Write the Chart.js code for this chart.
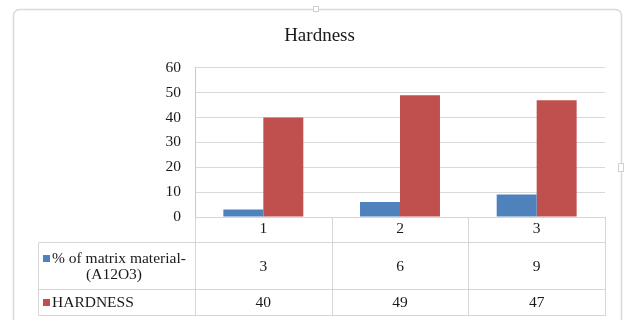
<!DOCTYPE html>
<html>
<head>
<meta charset="utf-8">
<script src="https://cdn.jsdelivr.net/npm/chart.js@4/dist/chart.umd.min.js"></script>
<style>
  html, body { margin: 0; padding: 0; background: #fff; }
  #wrap { width: 624px; height: 320px; }
</style>
</head>
<body>
<div id="wrap"><canvas id="c" width="624" height="320"></canvas></div>
<script>
// Chart data
const categories = ['1', '2', '3'];
const matrixLabelLines = ['% of matrix material-', '(A12O3)'];
const hardnessLabelLines = ['HARDNESS'];
const matrixPercent = [3, 6, 9];
const hardness = [40, 49, 47];
const yTickValues = [0, 10, 20, 30, 40, 50, 60];

const SERIF = '"Liberation Serif", "Times New Roman", serif';
const BLUE = '#4F81BD';
const RED = '#C0504D';
const LINE = '#d6d6d6';
const TEXT = '#1a1a1a';

const rowLabels = [matrixLabelLines, hardnessLabelLines];

// Outer chart frame with the small selection handles
const framePlugin = {
  id: 'frame',
  beforeDraw(chart) {
    const ctx = chart.ctx;
    ctx.save();
    ctx.strokeStyle = '#d9d9d9';
    ctx.lineWidth = 1.5;
    const x0 = 13.5, y0 = 9.5, x1 = 621.5, y1 = 340, r = 6;
    ctx.beginPath();
    ctx.moveTo(x0 + r, y0);
    ctx.lineTo(x1 - r, y0);
    ctx.arcTo(x1, y0, x1, y0 + r, r);
    ctx.lineTo(x1, y1);
    ctx.moveTo(x0, y1);
    ctx.lineTo(x0, y0 + r);
    ctx.arcTo(x0, y0, x0 + r, y0, r);
    ctx.stroke();
    ctx.fillStyle = '#ffffff';
    ctx.strokeStyle = '#cfcfcf';
    ctx.lineWidth = 1;
    ctx.fillRect(313, 6, 6, 6);
    ctx.strokeRect(313.5, 6.5, 5, 5);
    ctx.fillRect(618, 163, 6, 9);
    ctx.strokeRect(618.5, 163.5, 5, 8);
    ctx.restore();
  }
};

// Data table drawn under the category axis
const dataTablePlugin = {
  id: 'dataTable',
  afterDraw(chart) {
    const ctx = chart.ctx;
    const a = chart.chartArea;
    const x = chart.scales.x;
    const step = x.getPixelForValue(1) - x.getPixelForValue(0);
    const edges = categories.map((c, i) => Math.round(x.getPixelForValue(i) - step / 2));
    edges.push(Math.round(a.right));
    const top = Math.round(a.bottom);
    const headBottom = top + 25;
    const row1Bottom = headBottom + 47;
    const row2Bottom = row1Bottom + 26;
    const left = 38;

    ctx.save();
    ctx.strokeStyle = LINE;
    ctx.lineWidth = 1;
    const line = (xa, ya, xb, yb) => {
      ctx.beginPath();
      ctx.moveTo(xa + 0.5, ya + 0.5);
      ctx.lineTo(xb + 0.5, yb + 0.5);
      ctx.stroke();
    };
    edges.forEach(e => line(e, top, e, row2Bottom));
    line(left, headBottom, left, row2Bottom);
    [headBottom, row1Bottom, row2Bottom].forEach(y => line(left, y, edges[edges.length - 1], y));

    // values
    ctx.fillStyle = TEXT;
    ctx.font = '15.5px ' + SERIF;
    ctx.textAlign = 'center';
    ctx.textBaseline = 'middle';
    const rowCenters = [(headBottom + row1Bottom) / 2, (row1Bottom + row2Bottom) / 2];
    chart.data.datasets.forEach((ds, di) => {
      ds.data.forEach((v, i) => {
        ctx.fillText(String(v), x.getPixelForValue(i), rowCenters[di] + 1);
      });
    });

    // row headers with legend keys
    const keyColors = chart.data.datasets.map(ds => ds.backgroundColor);
    rowLabels.forEach((lines, ri) => {
      const cy = rowCenters[ri];
      const lh = 16;
      const firstY = cy - (lines.length - 1) * lh / 2;
      ctx.fillStyle = keyColors[ri];
      ctx.fillRect(43, Math.round(firstY) - 3, 7, 7);
      ctx.fillStyle = TEXT;
      lines.forEach((t, li) => {
        const y = firstY + li * lh + 1;
        if (li === 0) {
          ctx.textAlign = 'left';
          ctx.fillText(t, 52, y);
        } else {
          ctx.textAlign = 'center';
          ctx.fillText(t, 114, y);
        }
      });
    });
    ctx.restore();
  }
};

new Chart(document.getElementById('c'), {
  type: 'bar',
  data: {
    labels: categories,
    datasets: [
      {
        label: matrixLabelLines.join(''),
        data: matrixPercent,
        backgroundColor: BLUE,
        borderWidth: 0
      },
      {
        label: hardnessLabelLines.join(''),
        data: hardness,
        backgroundColor: RED,
        borderWidth: 0
      }
    ]
  },
  options: {
    responsive: false,
    devicePixelRatio: 1,
    animation: false,
    layout: { padding: { left: 34, right: 19, top: 0, bottom: 0 } },
    datasets: {
      bar: { categoryPercentage: 0.585, barPercentage: 1.0 }
    },
    plugins: {
      legend: { display: false },
      tooltip: { enabled: false },
      title: {
        display: true,
        text: 'Hardness',
        color: TEXT,
        font: { family: SERIF, size: 19, weight: 'normal' },
        padding: { top: 25, bottom: 20 }
      }
    },
    scales: {
      x: {
        grid: { display: false, drawTicks: false },
        border: { display: true, color: LINE },
        ticks: {
          color: TEXT,
          font: { family: SERIF, size: 15.5 },
          padding: 3,
          maxRotation: 0
        },
        afterFit(scale) { scale.height = 103; }
      },
      y: {
        min: 0,
        max: 60,
        afterBuildTicks(scale) {
          scale.ticks = yTickValues.map(v => ({ value: v }));
        },
        grid: { color: '#d9d9d9', drawTicks: false },
        border: { display: true, color: '#c8c8c8' },
        ticks: {
          color: TEXT,
          font: { family: SERIF, size: 15.5 },
          padding: 14
        },
        afterFit(scale) { scale.width = 161; }
      }
    }
  },
  plugins: [framePlugin, dataTablePlugin]
});
</script>
</body>
</html>
